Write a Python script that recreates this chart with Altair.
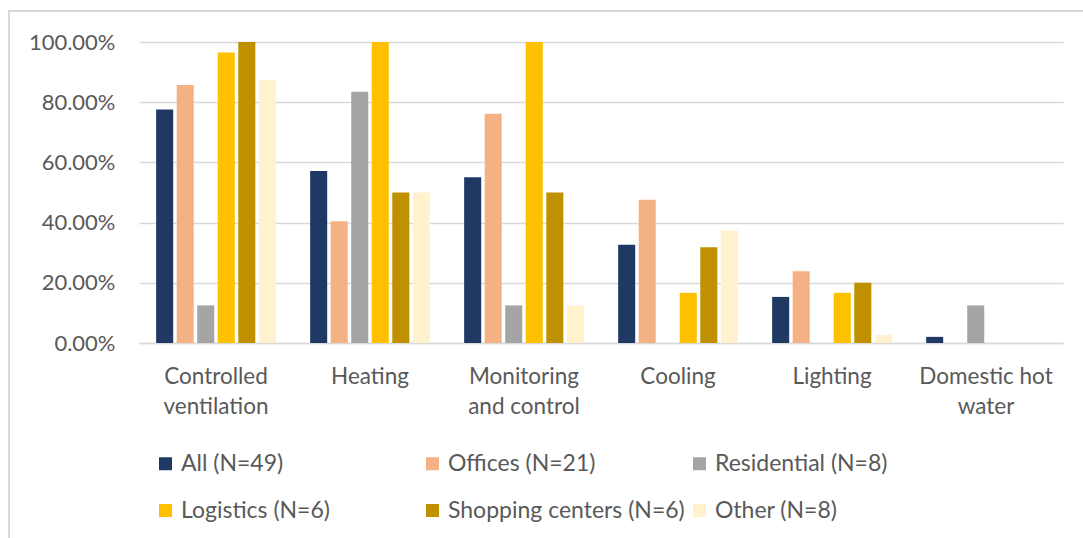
import altair as alt
import pandas as pd
import json

categories = ["Controlled ventilation", "Heating", "Monitoring and control",
              "Cooling", "Lighting", "Domestic hot water"]
label_lines = [["Controlled", "ventilation"], ["Heating"], ["Monitoring", "and control"],
               ["Cooling"], ["Lighting"], ["Domestic hot", "water"]]
series = ["All (N=49)", "Offices (N=21)", "Residential (N=8)",
          "Logistics (N=6)", "Shopping centers (N=6)", "Other (N=8)"]
colors = ["#203864", "#f4b183", "#a5a5a5", "#ffc000", "#bf9000", "#fff2cc"]

all_v = [77.55, 57.14, 55.10, 32.65, 15.31, 2.04]
offices_v = [85.71, 40.48, 76.19, 47.62, 23.81, 0.0]
residential_v = [12.5, 83.5, 12.5, 0.0, 0.0, 12.5]
logistics_v = [96.5, 100.0, 100.0, 16.67, 16.67, 0.0]
shopping_v = [100.0, 50.0, 50.0, 31.8, 20.0, 0.0]
other_v = [87.5, 50.0, 12.5, 37.5, 2.7, 0.0]

vals = [all_v, offices_v, residential_v, logistics_v, shopping_v, other_v]
rows = []
for s, vs in zip(series, vals):
    for c, v in zip(categories, vs):
        rows.append({"category": c, "series": s, "value": v / 100.0})
df = pd.DataFrame(rows)

# label expression for multi-line category labels
expr = "datum.value"
for c, lines in reversed(list(zip(categories, label_lines))):
    expr = f"datum.value == {json.dumps(c)} ? {json.dumps(lines)} : ({expr})"

FONT = "Lato"
TXT = "#595959"

bars = alt.Chart(df).mark_bar().encode(
    x=alt.X("category:N", sort=categories, title=None,
            scale=alt.Scale(paddingInner=0.2, paddingOuter=0.1),
            axis=alt.Axis(labelExpr=expr, labelAngle=0, labelFont=FONT, labelFontSize=22.5,
                          labelColor=TXT, labelPadding=22, labelLineHeight=30,
                          ticks=False, domain=True, domainColor="#d9d9d9", domainWidth=1.5,
                          grid=False, labelBaseline="top")),
    xOffset=alt.XOffset("series:N", sort=series,
                        scale=alt.Scale(paddingInner=0.17, paddingOuter=0.085)),
    y=alt.Y("value:Q", title=None,
            scale=alt.Scale(domain=[0, 1]),
            axis=alt.Axis(format=".2%", values=[0, 0.2, 0.4, 0.6, 0.8, 1.0],
                          labelFont=FONT, labelFontSize=22, labelColor=TXT,
                          labelPadding=24, ticks=False, domain=False,
                          gridColor="#d9d9d9", gridWidth=1.5)),
    color=alt.Color("series:N", sort=series,
                    scale=alt.Scale(domain=series, range=colors),
                    legend=alt.Legend(title=None, orient="none", legendX=15, legendY=410,
                                      columns=3, gridAlign="all", columnPadding=3,
                                      rowPadding=23, symbolType="square", symbolSize=169,
                                      symbolStrokeWidth=0, labelFont=FONT, labelFontSize=23,
                                      labelColor=TXT, labelOffset=4, padding=0,
                                      labelLimit=400, direction="horizontal")),
)

border = alt.Chart(pd.DataFrame({"a": [0]})).mark_rect(
    fill=None, stroke="#d9d9d9", strokeWidth=2
).encode(x=alt.value(-130), x2=alt.value(1200), y=alt.value(-31), y2=alt.value(700))

chart = alt.layer(border, bars).properties(
    width=924, height=301,
    autosize=alt.AutoSizeParams(type="none"),
    padding={"left": 139, "top": 42, "right": 20, "bottom": 195},
    background="white",
).configure_view(stroke=None)

chart.save("out.html", embed_options={"renderer": "svg", "actions": False})
